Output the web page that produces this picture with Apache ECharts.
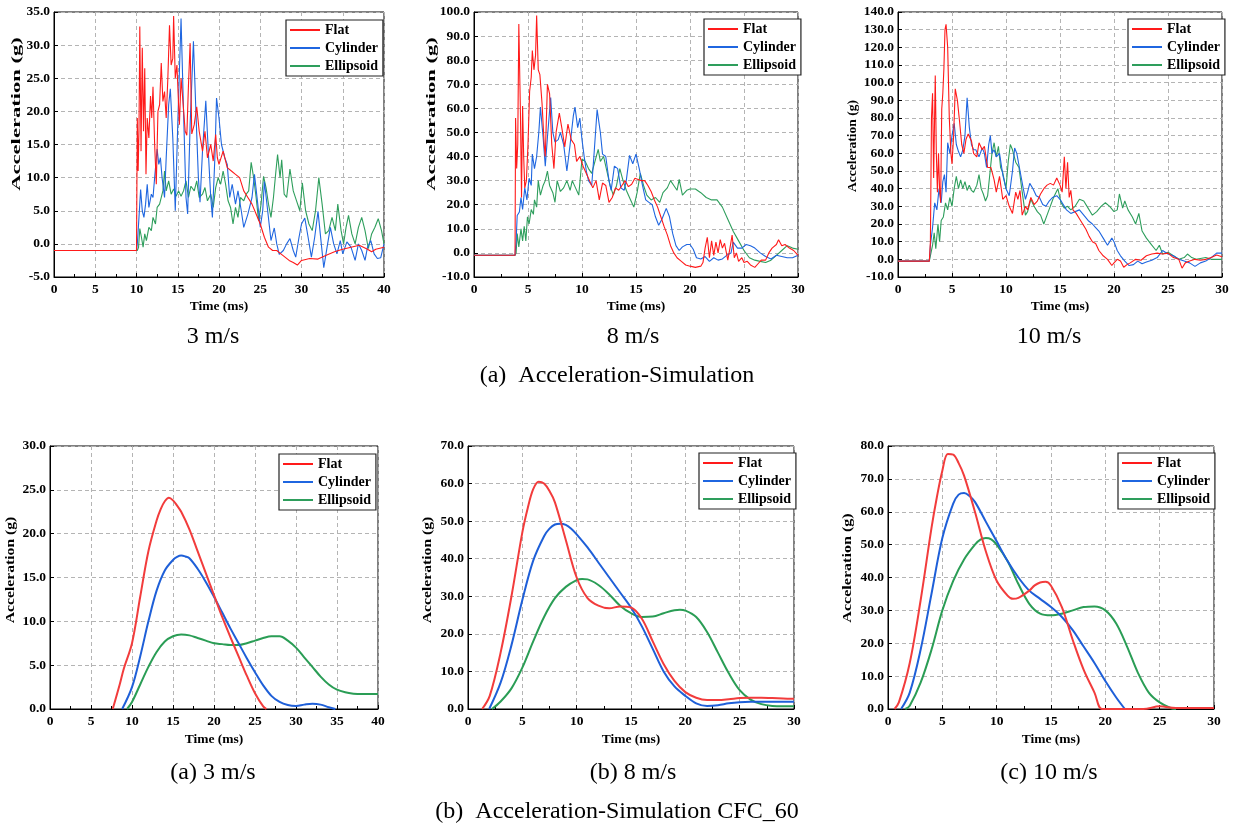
<!DOCTYPE html>
<html><head><meta charset="utf-8">
<script src="https://cdn.jsdelivr.net/npm/echarts@6/dist/echarts.min.js"></script>
<style>html,body{margin:0;padding:0;background:#fff}#c{width:1234px;height:831px}</style>
</head><body><div id="c"></div>
<script>
// ---------- (a) Acceleration-Simulation ----------
const seriesNames = ['Flat', 'Cylinder', 'Ellipsoid'];
const xTicksTop = [[0, 40, 5], [0, 30, 5], [0, 30, 5]];
const yTicksTop = [[-5, 35, 5], [-10, 100, 10], [-10, 140, 10]];
const xTicksBot = [[0, 40, 5], [0, 30, 5], [0, 30, 5]];
const yTicksBot = [[0, 30, 5], [0, 70, 10], [0, 80, 10]];
const panelTitles = ['3 m/s', '8 m/s', '10 m/s'];
const panelTitlesBot = ['(a) 3 m/s', '(b) 8 m/s', '(c) 10 m/s'];
const figTitles = ['(a)  Acceleration-Simulation', '(b)  Acceleration-Simulation CFC_60'];

// 3 m/s raw
const flat3 = [[0,-1],[10,-1],[10.1,19],[10.2,11],[10.3,17],[10.4,32.8],[10.55,14],[10.7,29.6],[10.85,17],[11,26.5],[11.15,10.5],[11.3,19],[11.5,16],[11.7,22.3],[11.85,19],[12,23.7],[12.2,15],[12.4,9],[12.6,20],[12.8,21],[13,27.3],[13.2,21.5],[13.4,23],[13.6,19],[13.8,25],[14,33],[14.2,27],[14.4,28],[14.5,34.4],[14.7,25],[14.9,27],[15.2,18],[15.4,25],[15.6,22],[15.9,17],[16.1,16.4],[16.3,24],[16.5,30.3],[16.7,16.6],[17,18],[17.3,20.7],[17.6,17],[18,14],[18.3,17],[18.6,13],[19,15],[19.3,12.5],[19.6,16.5],[19.8,13],[20,12],[20.5,14],[21,11.5],[21.5,11],[22,10.5],[22.5,10],[23,8],[23.5,7],[24,6],[24.5,4.5],[25,3],[25.5,1],[26,-0.5],[26.5,-1],[27,-1],[27.5,-1.5],[28,-2],[28.5,-2.5],[29,-2.8],[29.5,-3.2],[30,-2.5],[31,-2.2],[32,-2.3],[33,-1.7],[34,-1.2],[35,-0.8],[36,-0.5],[37,-0.2],[38,-0.8],[38.5,-1.2],[39,-0.8],[40,-0.5]];
const cyl3 = [[0,-1],[10,-1],[10.1,0],[10.3,4],[10.5,8.2],[10.7,5],[10.9,4],[11.1,6],[11.3,9],[11.5,5.5],[11.8,7.5],[12,7],[12.2,10],[12.5,14.3],[12.7,12],[12.9,13],[13.1,10],[13.4,7],[13.6,13],[13.9,21],[14.1,23.4],[14.4,16],[14.7,5],[15,18],[15.4,34],[15.7,20],[16,7],[16.2,4.5],[16.5,18],[16.9,30.6],[17.2,20],[17.5,10],[17.7,6.3],[18,14],[18.4,21.6],[18.7,14],[19,7],[19.2,4],[19.5,13],[19.7,22],[20,19],[20.3,15],[20.7,13],[21,12],[21.3,7],[21.6,9],[22,6],[22.3,8],[22.7,5],[23,2.5],[23.5,4.5],[24,7],[24.3,10.5],[24.7,6],[25,2.5],[25.3,5],[25.5,9.4],[25.9,5],[26.3,0.5],[26.7,2.4],[27,0],[27.3,-1.6],[27.8,-1],[28.2,0],[28.6,0.8],[29,-1],[29.3,-2],[29.7,1],[30,3],[30.4,3.9],[30.8,1],[31.2,-2],[31.6,1],[32,4.9],[32.4,0],[32.7,-3.6],[33.1,-0.5],[33.5,2.5],[33.9,0],[34.3,-1.5],[34.7,0.5],[35,-1.5],[35.5,0.3],[36,-0.5],[36.5,-2.5],[36.9,0],[37.3,-1],[37.7,-2.5],[38,-0.5],[38.4,0.5],[38.8,-1.5],[39.2,-2.2],[39.6,-2.1],[40,0]];
const ell3 = [[0,-1],[10.1,-1],[10.25,-0.5],[10.4,2.3],[10.6,1],[10.8,-0.5],[11,1.5],[11.2,0.5],[11.5,2.5],[11.8,2],[12,4],[12.3,3],[12.5,5.5],[12.8,6],[13,6],[13.2,8],[13.4,11],[13.6,8],[13.9,9.5],[14.2,7.5],[14.5,8.3],[14.8,7.2],[15.1,8],[15.4,7.2],[15.7,8],[16,9.5],[16.3,7],[16.6,8.7],[17,8],[17.3,9.5],[17.6,7],[18,7.5],[18.3,8.5],[18.6,6.5],[19,7.5],[19.3,5.5],[19.6,8.5],[19.9,10],[20.2,9],[20.5,11],[20.8,9],[21.1,6.5],[21.4,5.5],[21.7,3],[22,5.5],[22.3,4],[22.6,7],[23,6.5],[23.3,7.5],[23.6,8],[23.9,12.3],[24.2,10],[24.5,7],[24.8,3.5],[25.1,6],[25.4,10.2],[25.7,8.5],[26,6],[26.3,4],[26.6,7],[26.9,11],[27.1,13.5],[27.4,10],[27.6,12.7],[27.9,7.5],[28.2,7],[28.6,11.3],[29,8],[29.4,6.5],[29.8,5],[30.1,9.2],[30.5,5],[30.9,3],[31.3,2],[31.7,5],[32.1,10],[32.5,6],[32.9,1.5],[33.3,2],[33.7,4],[34.1,2],[34.4,6],[34.8,2],[35.1,0],[35.4,2.5],[35.7,4.3],[36.1,1.5],[36.5,0],[36.9,2.5],[37.3,4],[37.7,2],[38.1,-0.7],[38.5,1.5],[38.9,2.5],[39.3,3.8],[39.7,2],[40,0]];

// 8 m/s raw
const flat8 = [[0,-1],[3.8,-1],[3.85,56],[3.95,35],[4.05,45],[4.15,95],[4.3,58],[4.4,23],[4.5,61],[4.6,40],[4.7,27],[4.85,30],[5,45],[5.15,67],[5.3,73],[5.4,84],[5.55,76],[5.7,82],[5.8,98.5],[5.95,76],[6.1,74],[6.3,62],[6.5,45],[6.6,40],[6.8,70],[7,66],[7.2,45],[7.4,35],[7.6,50],[7.9,58],[8.2,50],[8.4,44],[8.7,53.5],[9,47],[9.3,45],[9.5,38],[9.8,40],[10.1,36],[10.4,33],[10.7,30],[11,27],[11.3,30],[11.6,22],[11.9,29],[12.2,28],[12.5,21],[12.8,23],[13.1,27],[13.4,26],[13.7,28],[14,30],[14.3,27.5],[14.6,28.5],[14.9,31],[15.2,30.5],[15.5,30],[15.8,30],[16.1,28],[16.4,25.5],[16.7,22],[17,19],[17.3,15],[17.6,11],[17.9,7.5],[18.2,3],[18.5,0],[18.8,-2],[19.2,-3.5],[19.6,-5],[20,-5.5],[20.5,-6],[21,-5.5],[21.2,-4],[21.4,2],[21.6,6.5],[21.8,-2],[22,5],[22.2,-1],[22.4,4.5],[22.6,0],[22.8,5.5],[23,2],[23.2,4],[23.5,-3],[23.7,2],[23.9,7.4],[24.1,-2],[24.3,0],[24.5,-3.5],[24.8,-2],[25,-4],[25.3,-3.5],[25.6,-5],[26,-6],[26.3,-4.5],[26.6,-3],[27,-3],[27.3,0],[27.6,2],[28,3.5],[28.2,5.5],[28.5,3],[28.8,3.5],[29.2,2],[29.6,1],[30,-1]];
const cyl8 = [[0,-1],[3.8,-1],[3.9,5],[4,15.5],[4.2,17],[4.35,23],[4.5,18],[4.7,27],[4.9,22],[5.1,31],[5.3,28],[5.4,41],[5.6,35],[5.8,40],[6,50],[6.15,60.5],[6.4,48],[6.6,36],[6.8,48],[7.1,64.5],[7.3,50],[7.5,46],[7.8,47],[8,50],[8.3,45],[8.6,34],[8.9,45],[9.2,57],[9.35,60.5],[9.6,52],[9.8,56],[10,47],[10.2,40],[10.4,34],[10.6,30],[10.9,28],[11.1,40],[11.4,59.5],[11.7,50],[11.9,41],[12.2,40],[12.5,30],[12.7,26],[13,36],[13.3,35],[13.6,27],[13.9,26],[14.1,30],[14.4,40.5],[14.7,37],[15,41],[15.3,35],[15.6,28],[15.9,22],[16.2,21],[16.5,20],[16.8,15],[17.1,11.5],[17.4,14],[17.8,18.5],[18.1,15],[18.4,8],[18.7,3],[19,1],[19.3,2.5],[19.7,3.5],[20,3.5],[20.3,1.5],[20.6,-2],[21,-2.5],[21.4,-1.5],[21.8,-3.5],[22.2,-2],[22.6,-3],[23,-2.5],[23.4,-1],[23.8,0],[24,4.5],[24.4,2],[24.8,2],[25.2,3.5],[25.6,3],[26,2],[26.5,0],[27,-1.5],[27.5,-2.5],[28,-1],[28.5,-1.5],[29,-2],[29.5,-2],[30,-1]];
const ell8 = [[0,-1],[3.8,-1],[3.9,0],[4,8],[4.15,2.5],[4.35,10],[4.5,5],[4.65,11],[4.8,5],[4.95,15],[5.1,12],[5.3,18],[5.5,16],[5.6,22],[5.8,19],[5.95,30],[6.15,24],[6.4,28],[6.6,30],[6.8,34],[7,28],[7.3,25],[7.5,21],[7.7,30],[8,25.5],[8.3,27],[8.6,30],[8.9,26],[9.1,30],[9.4,27],[9.7,24],[10,39],[10.3,38],[10.6,35],[10.9,33],[11.2,38],[11.5,43],[11.7,38],[12,40],[12.3,34],[12.6,28],[12.9,24],[13.2,28],[13.5,35],[13.8,30],[14.1,26],[14.5,22],[14.8,19],[15.1,25],[15.4,33],[15.7,28],[16,24],[16.4,22],[16.8,23],[17.2,21],[17.5,25],[17.9,27],[18.2,30],[18.5,28],[18.8,26],[19,30.5],[19.3,24],[19.7,26],[20,26.5],[20.5,26.5],[21,25],[21.5,23],[22,22],[22.5,22],[23,19],[23.5,14],[24,9],[24.5,5],[25,1],[25.5,-2],[26,-3],[26.5,-3.5],[27,-4],[27.5,-3],[28,-1],[28.5,1],[29,3],[29.5,2],[30,1.5]];

// 10 m/s raw
const flat10 = [[0,-1],[2.9,-1],[3,10],[3.1,80],[3.2,94],[3.3,46],[3.45,104],[3.55,60],[3.65,38],[3.75,60],[3.85,40],[3.95,32],[4.05,85],[4.15,94],[4.25,108],[4.35,130],[4.45,133],[4.6,120],[4.75,80],[4.9,60],[5,54],[5.15,70],[5.3,96.5],[5.5,90],[5.7,78],[5.9,65],[6.1,60],[6.3,68],[6.5,71],[6.8,67],[7,60],[7.3,58],[7.5,66],[7.8,62],[8,64],[8.3,52],[8.6,52],[8.9,45],[9.1,38],[9.4,47],[9.7,34],[10,36],[10.3,30],[10.6,26],[10.9,38],[11.1,34],[11.3,39],[11.5,25],[11.8,30],[12,28],[12.3,35],[12.6,31],[12.9,33],[13.2,37],[13.5,40],[13.8,42],[14.1,43],[14.4,42],[14.7,46],[15,42],[15.2,38],[15.4,58],[15.55,40],[15.7,55],[15.85,35],[16,39],[16.2,28],[16.5,26],[16.8,23],[17.1,20],[17.4,17],[17.7,13],[18,10],[18.3,9],[18.6,5],[19,2],[19.4,0],[19.8,-3.5],[20,-2],[20.3,0],[20.6,-1],[20.9,-4.5],[21.2,-3],[21.5,-2],[22,0],[22.5,-0.5],[23,2],[23.5,3],[24,3.5],[24.5,3],[25,3.5],[25.5,1],[26,0],[26.3,-5],[26.6,-2],[27,-1],[27.5,0],[28,-0.5],[28.5,0],[29,1],[29.5,2.5],[30,1.5]];
const cyl10 = [[0,-1],[2.9,-1],[3,8],[3.2,18],[3.4,32],[3.6,28],[3.8,40],[4,32],[4.15,44],[4.3,48],[4.45,38],[4.6,66],[4.8,60],[5,70],[5.2,77],[5.4,65],[5.6,61],[5.8,58],[6,62],[6.2,70],[6.4,91.5],[6.6,75],[6.8,65],[7,62],[7.2,62],[7.5,58],[7.8,63],[8,60],[8.2,52],[8.4,65],[8.55,70],[8.7,60],[8.9,62],[9.1,58],[9.4,60],[9.7,48],[10,40],[10.3,36],[10.6,50],[10.8,63],[11,60],[11.3,50],[11.6,40],[11.8,34],[12,38],[12.2,43],[12.5,40],[12.8,36],[13.1,35],[13.4,31],[13.7,30],[14,33],[14.3,35],[14.7,36],[15,34],[15.3,31],[15.6,28],[16,26],[16.4,27],[16.8,28],[17.2,25],[17.6,22],[18,20],[18.3,18],[18.6,16],[19,12],[19.4,8],[19.8,12],[20,10],[20.3,5],[20.6,2],[21,-1],[21.4,-3.5],[21.8,-3],[22.2,-1],[22.6,-2.5],[23,-1.5],[23.5,-0.5],[24,1],[24.5,5],[25,3],[25.5,2],[26,0],[26.5,-1],[27,-2],[27.5,-4],[28,-2],[28.5,-1],[29,1],[29.5,3.5],[30,3.5]];
const ell10 = [[0,-1],[2.9,-1],[3,0],[3.2,8],[3.35,15],[3.5,6],[3.7,20],[3.85,10],[4,22],[4.2,24],[4.4,32],[4.6,28],[4.8,35],[5,30],[5.2,40],[5.4,47],[5.6,40],[5.8,45],[6,40],[6.2,44],[6.4,39],[6.6,42],[6.8,39],[7,38],[7.3,42],[7.5,48],[7.7,40],[7.9,37],[8.1,33],[8.3,36],[8.5,48],[8.7,60],[8.9,66],[9.1,58],[9.3,64],[9.5,52],[9.7,49],[10,40],[10.2,55],[10.4,65],[10.6,62],[10.9,55],[11.2,52],[11.5,38],[11.8,25],[12,27],[12.3,34],[12.6,30],[12.9,27],[13.2,25],[13.5,20],[13.8,25],[14.1,30],[14.4,35],[14.8,40],[15.1,32],[15.4,29],[15.7,30],[16,28],[16.4,30],[16.8,34],[17.2,33],[17.6,29],[18,25],[18.4,27],[18.8,30],[19.2,32],[19.6,30],[20,27],[20.3,28],[20.5,37],[20.8,29],[21,33],[21.3,28],[21.7,24],[22,20],[22.3,26],[22.6,16],[23,12],[23.5,8],[23.9,5],[24.2,8],[24.5,3],[25,4],[25.5,2],[26,0],[26.5,1],[26.8,3],[27.2,1],[27.6,0],[28,0.5],[28.5,1],[29,0],[29.5,0],[30,0]];

// ---------- (b) CFC_60 ----------
const flat3f = [[7.65,0],[8.5,2.8],[9,4.6],[10,7.5],[11,12.8],[12,18],[13,21.5],[13.5,22.8],[14,23.7],[14.5,24.1],[15,23.8],[15.5,23.2],[16,22.5],[17,20.5],[18,18],[19,15.5],[20,13],[21,10.5],[22,8.2],[23,6],[24,3.8],[25,1.8],[26,0.3],[26.4,0]];
const cyl3f = [[8.8,0],[10,2.5],[11,6],[12,10],[13,13.5],[14,15.8],[15,17],[15.5,17.35],[16,17.5],[16.5,17.4],[17,17.2],[18,16],[19,14.5],[20,12.8],[21,11],[22,9.2],[23,7.5],[24,5.8],[25,4.2],[26,2.7],[27,1.5],[28,0.8],[29,0.45],[30,0.35],[31,0.5],[32,0.6],[33,0.5],[34,0.2],[34.8,0]];
const ell3f = [[9.4,0],[10,0.8],[11,2.8],[12,4.8],[13,6.5],[14,7.7],[15,8.3],[16,8.5],[17,8.4],[18,8.1],[19,7.8],[20,7.5],[21,7.4],[22,7.3],[23,7.3],[24,7.5],[25,7.8],[26,8.1],[27,8.3],[28,8.3],[29,7.8],[30,7],[31,5.9],[32,4.8],[33,3.7],[34,2.8],[35,2.2],[36,1.9],[37,1.75],[38,1.7],[39,1.7],[40,1.7]];
const flat8f = [[1.3,0],[2,3.5],[3,15],[4,30],[5,47],[5.5,53.5],[6,58.5],[6.5,60.5],[7,60],[7.5,58],[8,55],[9,45],[10,35],[11,29.5],[12,27.5],[13,26.8],[14,27.3],[15,27],[16,24],[17,18],[18,12],[19,7.5],[20,4.5],[21,3],[22,2.4],[23,2.4],[24,2.6],[25,2.9],[26,3],[27,3],[28,2.9],[29,2.8],[30,2.7]];
const cyl8f = [[1.95,0],[3,7],[4,17],[5,29],[6,39.5],[7,46],[7.5,48],[8,49.1],[8.5,49.3],[9,49],[9.5,48],[10,46.5],[11,43],[12,39],[13,35],[14,31],[15,27],[16,22],[17,16],[18,10],[19,6],[20,3.5],[21,1.5],[22,0.8],[23,1],[24,1.5],[25,1.8],[26,1.9],[27,1.9],[28,1.9],[29,1.9],[30,1.9]];
const ell8f = [[2.2,0],[3,2],[4,5.5],[5,11],[6,18],[7,24.5],[8,29.5],[9,32.5],[10,34.3],[10.5,34.6],[11,34.5],[12,33],[13,30.5],[14,27.5],[15,25.5],[16,24.5],[17,24.6],[18,25.5],[19,26.3],[19.5,26.4],[20,26.2],[21,24.5],[22,20.5],[23,15],[24,9.5],[25,5],[26,2.5],[27,1.3],[28,0.8],[29,0.7],[30,0.7]];
const flat10f = [[0.6,0],[1,2],[2,14],[3,33],[4,55],[4.5,64.5],[5,72.5],[5.5,77.6],[6,77.4],[6.5,74.8],[7,71],[8,60],[9,48],[10,39],[11,34.5],[11.5,33.5],[12,33.8],[13,36],[13.5,37.6],[14,38.5],[14.5,38.7],[15,37.5],[16,31],[17,21],[18,12],[19,5],[19.7,0],[21,0],[23.5,0],[25,0.8],[26.5,0.3],[30,0.3]];
const cyl10f = [[1.2,0],[2,5],[3,18],[4,35],[5,52],[6,62.5],[6.5,65.2],[7,65.7],[7.5,64.8],[8,63],[9,57],[10,51],[11,45],[12,40],[13,36],[14,33.5],[15,31],[16,28],[17,24],[18,19],[19,14],[20,8.5],[21,3.5],[21.8,0]];
const ell10f = [[1.6,0],[2,1],[3,8],[4,18],[5,30],[6,39],[7,45.5],[8,50],[8.5,51.5],[9,52],[9.5,51.6],[10,50],[11,45],[12,38],[13,32],[14,29],[15,28.5],[16,29],[17,30],[18,31],[19,31.2],[20,30],[21,26],[22,19],[23,11],[24,5],[25,2],[26,0.3],[26.5,0]];

const topData = [[flat3, cyl3, ell3], [flat8, cyl8, ell8], [flat10, cyl10, ell10]];
const botData = [[flat3f, cyl3f, ell3f], [flat8f, cyl8f, ell8f], [flat10f, cyl10f, ell10f]];

const FONT = "'Liberation Serif', 'Times New Roman', serif";
const colorsTop = ['#ff1a1a', '#1f66e0', '#2e9e5c'];
const colorsBot = ['#f23c3c', '#1e5fd8', '#2a9d55'];

const grids = [
  {left: 54, top: 12, width: 330, height: 265},
  {left: 474, top: 12, width: 324, height: 265},
  {left: 898, top: 12, width: 324, height: 265},
  {left: 50, top: 446, width: 328, height: 263},
  {left: 468, top: 446, width: 326, height: 263},
  {left: 888, top: 446, width: 326, height: 263}
];
const legendPos = [[286,20],[704,19],[1128,19],[279,454],[699,453],[1118,453]];
const yNamePos = [[17,114,1.67],[432,114,1.67],[853,146,1.0],[11,570,1.16],[428,570,1.16],[848,568,1.19]];

const xAxes = [], yAxes = [], series = [], legends = [];
const xt = xTicksTop.concat(xTicksBot), yt = yTicksTop.concat(yTicksBot);
for (let i = 0; i < 6; i++) {
  xAxes.push({
    gridIndex: i, type: 'value', min: xt[i][0], max: xt[i][1], interval: xt[i][2],
    axisLine: {show: true, onZero: false, lineStyle: {color: '#000', width: 1}},
    axisTick: {show: true, inside: true, length: 4, lineStyle: {color: '#000'}},
    minorTick: {show: true, splitNumber: 2, length: 3, lineStyle: {color: '#000'}},
    splitLine: {show: true, lineStyle: {type: [4, 3], color: '#b4b4b4', width: 1}},
    axisLabel: {fontFamily: FONT, fontWeight: 'bold', fontSize: 13.5, color: '#000', margin: 6},
    name: 'Time (ms)', nameLocation: 'middle', nameGap: i < 3 ? 23 : 24,
    nameTextStyle: {fontFamily: FONT, fontWeight: 'bold', fontSize: 13.5, color: '#000'}
  });
  yAxes.push({
    gridIndex: i, type: 'value', min: yt[i][0], max: yt[i][1], interval: yt[i][2],
    axisLine: {show: true, onZero: false, lineStyle: {color: '#000', width: 1}},
    axisTick: {show: true, inside: true, length: 4, lineStyle: {color: '#000'}},
    splitLine: {show: true, lineStyle: {type: [4, 3], color: '#b4b4b4', width: 1}},
    axisLabel: {fontFamily: FONT, fontWeight: 'bold', fontSize: 13.5, color: '#000', margin: 4,
      formatter: v => v.toFixed(1)}
  });
  const top = i < 3;
  const d = top ? topData[i] : botData[i - 3];
  const cols = top ? colorsTop : colorsBot;
  for (let k = 0; k < 3; k++) {
    series.push({
      type: 'line', name: seriesNames[k], xAxisIndex: i, yAxisIndex: i,
      data: d[k], symbol: 'none', smooth: top ? false : 0.35,
      lineStyle: {color: cols[k], width: top ? 1.1 : 2}, itemStyle: {color: cols[k]},
      clip: true, z: 3 - k
    });
  }
  legends.push({
    left: legendPos[i][0], top: legendPos[i][1], orient: 'vertical',
    data: seriesNames, selectedMode: false,
    borderColor: '#222', borderWidth: 1.2, padding: [3, 5, 3, 3], itemGap: 4,
    itemWidth: 30, itemHeight: 13, backgroundColor: '#fff',
    lineStyle: {width: 2}, itemStyle: {opacity: 0},
    textStyle: {fontFamily: FONT, fontWeight: 'bold', fontSize: 14, color: '#000', padding: [0, 0, 0, 0]}
  });
}

const graphics = [];
yNamePos.forEach(p => {
  graphics.push({type: 'text', x: p[0], y: p[1], rotation: Math.PI / 2, scaleX: p[2], z: 10,
    style: {text: 'Acceleration (g)', font: "bold 13.5px " + FONT, fill: '#000', align: 'center', verticalAlign: 'middle'}});
});
const cx = [213, 633, 1049];
for (let j = 0; j < 3; j++) {
  graphics.push({type: 'text', x: cx[j], y: 337, style: {text: panelTitles[j], font: "24px " + FONT, fill: '#000', align: 'center', verticalAlign: 'middle'}});
  graphics.push({type: 'text', x: cx[j], y: 773, style: {text: panelTitlesBot[j], font: "24px " + FONT, fill: '#000', align: 'center', verticalAlign: 'middle'}});
}
graphics.push({type: 'text', x: 617, y: 376, style: {text: figTitles[0], font: "24px " + FONT, fill: '#000', align: 'center', verticalAlign: 'middle'}});
graphics.push({type: 'text', x: 617, y: 812, style: {text: figTitles[1], font: "24px " + FONT, fill: '#000', align: 'center', verticalAlign: 'middle'}});

const chart = echarts.init(document.getElementById('c'), null, {renderer: 'canvas'});
chart.setOption({
  animation: false,
  backgroundColor: '#fff',
  grid: grids.map(g => Object.assign({show: true, borderColor: '#000', borderWidth: 1, backgroundColor: 'transparent'}, g)),
  xAxis: xAxes, yAxis: yAxes, series: series, legend: legends, graphic: graphics
});
</script></body></html>
